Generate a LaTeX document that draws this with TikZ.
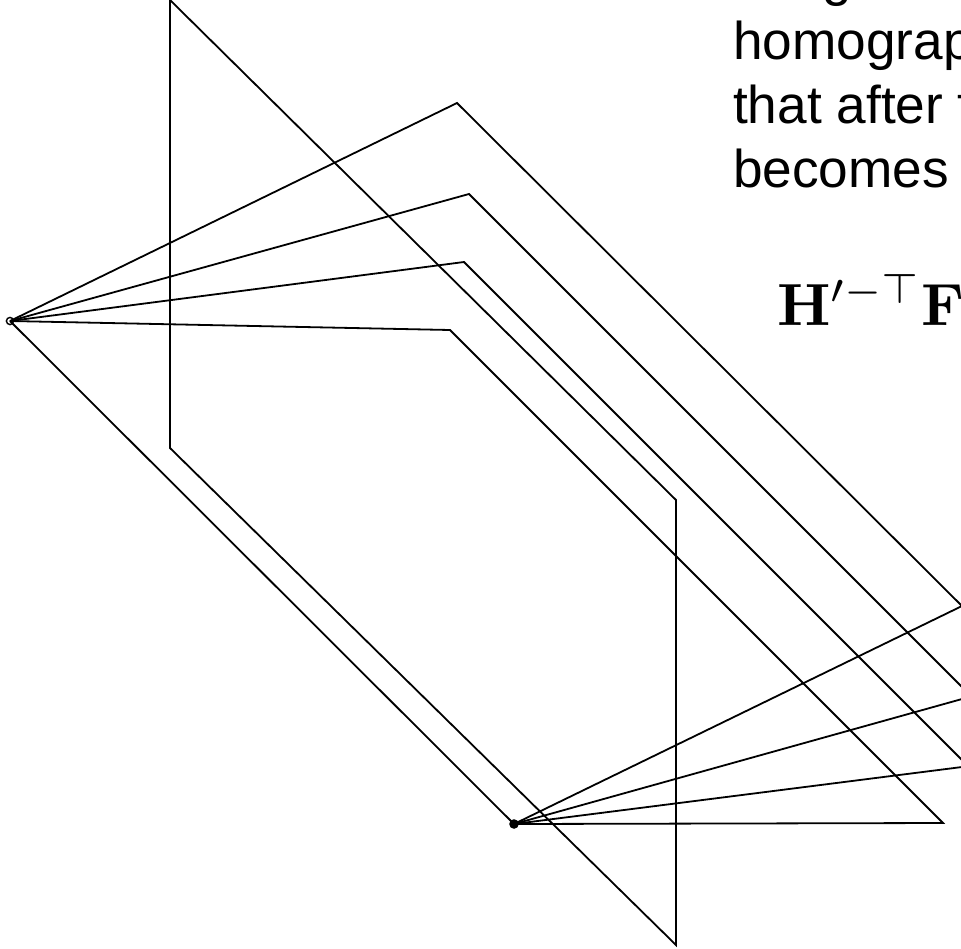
\documentclass[tikz,border=0pt]{standalone}
\usepackage[no-math]{fontspec}
\setmainfont{Liberation Sans}
\tikzset{rayline/.style={line width=1.8pt,line join=miter}}
\tikzset{slidetext/.style={inner sep=0pt,anchor=base west,font=\fontsize{53.2}{60}\selectfont}}
\begin{document}
\begin{tikzpicture}[x=1pt,y=-1pt]
\useasboundingbox (0,0) rectangle (961,948);
\clip (0,0) rectangle (961,948);
\coordinate (epoleL) at (10,321);
\coordinate (epoleR) at (514,824);
% planes of the two images
\coordinate (planeA) at (170,0);
\coordinate (planeB) at (170,448);
\coordinate (planeC) at (676,945);
\coordinate (planeD) at (676,500);
\draw[rayline] (planeA) -- (planeB) -- (planeC) -- (planeD) -- (planeA);
% epipolar planes
\coordinate (topA) at (457,103);
\coordinate (topB) at (469,194);
\coordinate (topC) at (464,262);
\coordinate (topD) at (450,330);
\coordinate (endA) at (962,606);
\coordinate (endB) at (962,687);
\coordinate (endC) at (962,760);
\coordinate (endD) at (943,823);
\coordinate (farB) at (962,699);
\coordinate (farC) at (962,767);
\draw[rayline] (epoleL) -- (topA) -- (endA) -- (epoleR);
\draw[rayline] (epoleL) -- (topB) -- (endB);
\draw[rayline] (epoleR) -- (farB);
\draw[rayline] (epoleL) -- (topC) -- (endC);
\draw[rayline] (epoleR) -- (farC);
\draw[rayline] (epoleL) -- (topD) -- (endD) -- (epoleR);
\draw[rayline] (epoleL) -- (epoleR);
\draw[line width=1.4pt] (epoleL) circle (3.6);
\fill (epoleR) circle (4.8);
% clipped slide text
\node[slidetext] (lineA) at (822,-5) {g};
\node[slidetext] (lineB) at (733,59) {homograp};
\node[slidetext] (lineC) at (733,123) {that after t};
\node[slidetext] (lineD) at (733,187) {becomes};
\node[inner sep=0pt,anchor=base west,scale=5.95] (formula) at (776,325) {$\mathbf{H}'^{-\top}\mathbf{F}$};
\end{tikzpicture}
\end{document}
